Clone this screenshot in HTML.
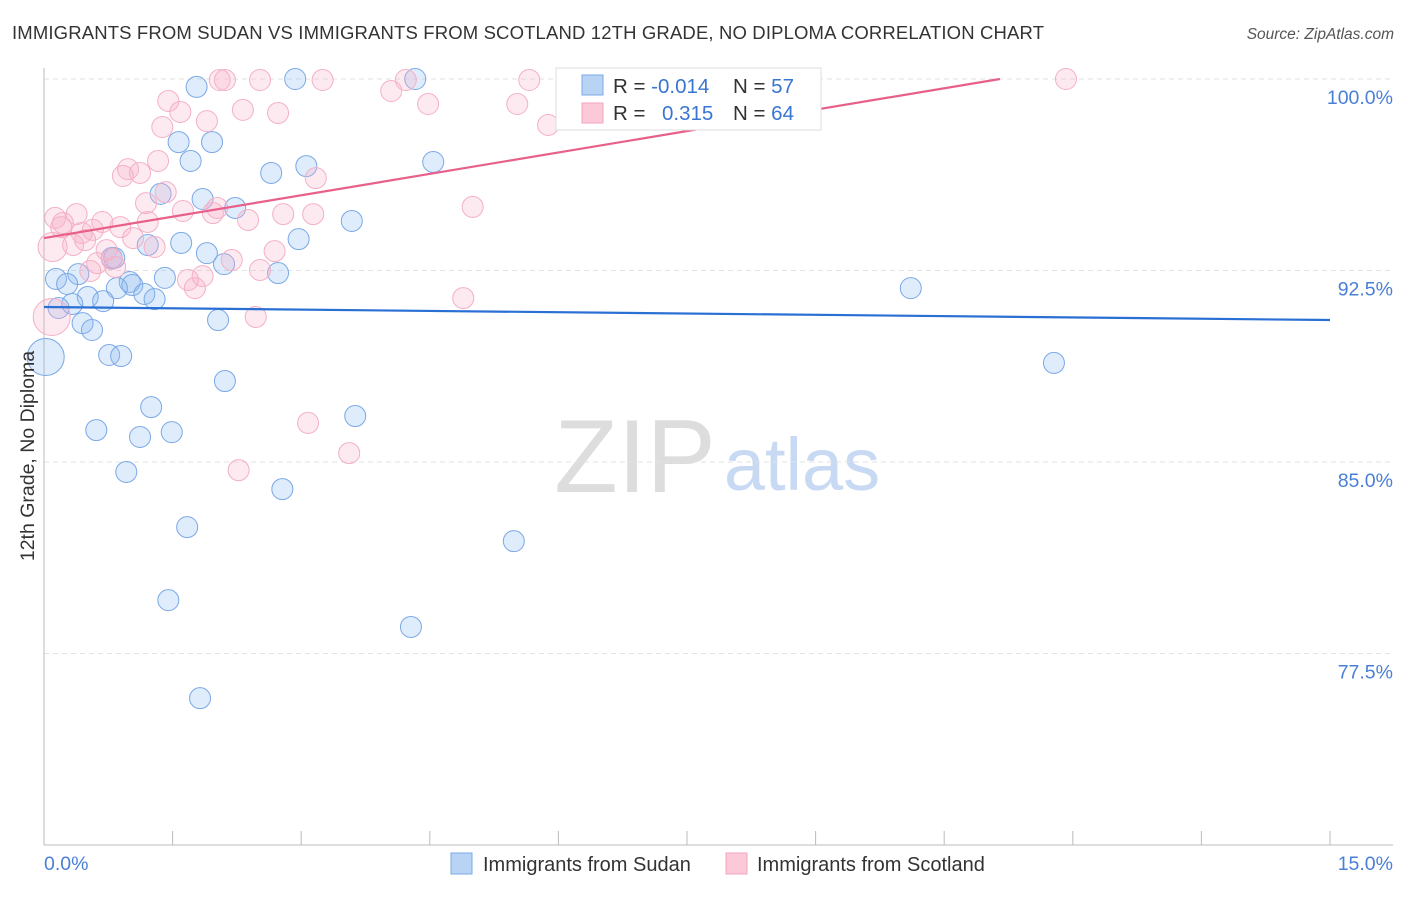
<!DOCTYPE html>
<html><head><meta charset="utf-8"><style>
body{margin:0;background:#fff;font-family:"Liberation Sans",sans-serif}
svg text{font-family:"Liberation Sans",sans-serif}
</style></head><body>
<svg id="c" width="1406" height="892" viewBox="0 0 1406 892">
<text x="12" y="39" font-size="18.5" fill="#333" textLength="1032">IMMIGRANTS FROM SUDAN VS IMMIGRANTS FROM SCOTLAND 12TH GRADE, NO DIPLOMA CORRELATION CHART</text>
<text x="1394" y="39" font-size="15.5" fill="#555" font-style="italic" text-anchor="end">Source: ZipAtlas.com</text>
<g>
<text x="635" y="492" font-size="104" fill="#ddd" font-family="Liberation Serif" text-anchor="middle">ZIP</text>
<text x="802" y="490" font-size="74" fill="#c8daf3" text-anchor="middle">atlas</text>
</g>
<g id="grid"></g>
<g id="axes"></g>
<g id="pts"></g>
<g id="lines"></g>
<text transform="translate(34,456) rotate(-90)" font-size="19.5" fill="#333" text-anchor="middle">12th Grade, No Diploma</text>
<text x="44" y="870" font-size="19.5" fill="#4a7fd6">0.0%</text>
<text x="1393" y="870" font-size="19.5" fill="#4a7fd6" text-anchor="end">15.0%</text>
<g>
<rect x="556" y="68" width="265" height="62" fill="#fff" stroke="#ddd"/>
<rect x="582" y="75" width="21" height="20" fill="#b9d3f5" stroke="#7aaae8"/>
<rect x="582" y="103" width="21" height="20" fill="#fbc9d8" stroke="#f3a6bf"/>
<text x="613" y="93" font-size="20.5" fill="#333">R = <tspan fill="#3a75d0">-0.014</tspan></text>
<text x="733" y="93" font-size="20.5" fill="#333">N = <tspan fill="#3a75d0">57</tspan></text>
<text x="613" y="120" font-size="20.5" fill="#333">R = <tspan fill="#3a75d0" x="662">0.315</tspan></text>
<text x="733" y="120" font-size="20.5" fill="#333">N = <tspan fill="#3a75d0">64</tspan></text>
</g>
<g>
<rect x="451" y="853" width="21" height="21" fill="#b9d3f5" stroke="#7aaae8"/>
<text x="483" y="871" font-size="20" fill="#333">Immigrants from Sudan</text>
</g>
<g>
<rect x="726" y="853" width="21" height="21" fill="#fbc9d8" stroke="#f3a6bf"/>
<text x="757" y="871" font-size="20" fill="#333">Immigrants from Scotland</text>
</g>
</svg>
<script>
const blueX=[1.78,2.93,4.33,1.57,1.96,1.71,3.06,4.54,2.65,1.36,1.85,2.23,3.59,2.97,1.60,1.21,1.90,0.79,2.10,2.73,0.14,0.40,0.27,1.41,1.00,1.03,0.85,0.51,1.17,1.29,0.69,0.33,0.17,2.03,0.45,0.56,0.02,0.76,0.90,2.11,1.25,3.63,0.61,1.12,1.49,0.96,2.78,1.67,5.48,1.45,4.28,1.82,10.11,11.78,0.82];
const blueY=[99.69,100,100,97.53,97.53,96.79,96.59,96.75,96.32,95.50,95.30,94.95,94.44,93.73,93.58,93.50,93.18,92.99,92.75,92.40,92.17,92.36,91.97,92.21,92.05,91.93,91.81,91.46,91.58,91.38,91.30,91.19,91.03,90.56,90.44,90.17,89.11,89.19,89.15,88.17,87.15,86.80,86.25,85.98,86.17,84.61,83.94,82.45,81.90,79.59,78.54,75.75,91.81,88.88,92.99];
const blueR=[12,12,12,12,12,12,12,12,12,12,12,12,12,12,12,12,12,12,12,12,12,12,12,12,12,12,12,12,12,12,12,12,12,12,12,12,20,12,12,12,12,12,12,12,12,12,12,12,12,12,12,12,12,12,12];
const pinkX=[2.05,2.11,2.52,3.25,4.22,4.05,4.48,1.45,1.59,2.32,2.73,1.90,1.38,1.33,0.98,0.92,1.12,3.17,1.42,1.19,1.62,2.02,1.97,2.38,2.79,3.14,5.00,0.13,0.22,0.38,0.68,0.89,0.57,0.44,0.48,0.34,0.10,1.04,1.21,0.73,1.29,2.19,2.69,0.79,0.83,0.62,0.54,2.52,1.68,1.76,1.85,4.89,2.47,0.09,11.92,5.66,5.52,5.88,3.08,3.56,2.27,0.20];
const pinkY=[99.96,99.96,99.96,99.96,99.96,99.53,99.02,99.14,98.71,98.79,98.67,98.35,98.12,96.79,96.47,96.20,96.32,96.12,95.57,95.14,94.83,94.95,94.75,94.48,94.71,94.71,94.99,94.56,94.36,94.71,94.40,94.20,94.09,93.97,93.69,93.50,93.42,93.77,94.40,93.30,93.42,92.91,93.26,92.95,92.64,92.79,92.48,92.52,92.13,91.81,92.28,91.42,90.68,90.68,100,99.96,99.02,98.20,86.53,85.35,84.68,94.20];
const pinkR=[12,12,12,12,12,12,12,12,12,12,12,12,12,12,12,12,12,12,12,12,12,12,12,12,12,12,12,12,12,12,12,12,12,12,12,12,16,12,12,12,12,12,12,12,12,12,12,12,12,12,12,12,12,20,12,12,12,12,12,12,12,12];
const blueTrend=[91.07,90.56];
const pinkTrend=[93.77,100.0];
const pinkTrendEndX=11.15;
const yTicks=[100,92.5,85,77.5];
const yTickLabels=["100.0%","92.5%","85.0%","77.5%"];
const xTicks=[0,1.5,3,4.5,6,7.5,9,10.5,12,13.5,15];

const NS="http://www.w3.org/2000/svg";
const X=v=>44+v/15*1286;
const Y=v=>79+(100-v)/30*766;
function mk(tag,parent,attrs){const e=document.createElementNS(NS,tag);for(const k in attrs)e.setAttribute(k,attrs[k]);document.getElementById(parent).appendChild(e);return e;}
yTicks.forEach((t,i)=>{
 const l=mk('line','grid',{x1:44,x2:1393,y1:Y(t),y2:Y(t),stroke:'#e2e2e2','stroke-dasharray':'5,4'});
 
 
 const tx=mk('text','grid',{x:1393,y:Y(t)+25,'font-size':19.5,fill:'#4a7fd6','text-anchor':'end'});
 tx.textContent=yTickLabels[i];
 
 
});
const ya=mk('line','axes',{x1:44,x2:44,y1:68,y2:845,stroke:'#bbb'});


const xa=mk('line','axes',{x1:44,x2:1393,y1:845,y2:845,stroke:'#bbb'});


xTicks.forEach(t=>{
 const l=mk('line','axes',{x1:X(t),x2:X(t),y1:831,y2:845,stroke:'#bbb'});
 
 
});
blueX.forEach((v,i)=>{
 const c=mk('circle','pts',{cx:X(v),cy:Y(blueY[i]),r:blueR[i]-3.5+2,fill:'rgba(140,185,240,0.28)',stroke:'#7aa8e6','stroke-width':1});
 
 
});
pinkX.forEach((v,i)=>{
 const c=mk('circle','pts',{cx:X(v),cy:Y(pinkY[i]),r:pinkR[i]-1.5,fill:'rgba(248,175,200,0.28)',stroke:'#f4b0c6','stroke-width':1});
 
 
});
const bl=mk('line','lines',{x1:X(0),y1:Y(blueTrend[0]),x2:X(15),y2:Y(blueTrend[1]),stroke:'#2a6fd4','stroke-width':2.2});


const pl=mk('line','lines',{x1:X(0),y1:Y(pinkTrend[0]),x2:X(pinkTrendEndX),y2:Y(pinkTrend[1]),stroke:'#e8608a','stroke-width':2.2});


</script>
</body></html>
